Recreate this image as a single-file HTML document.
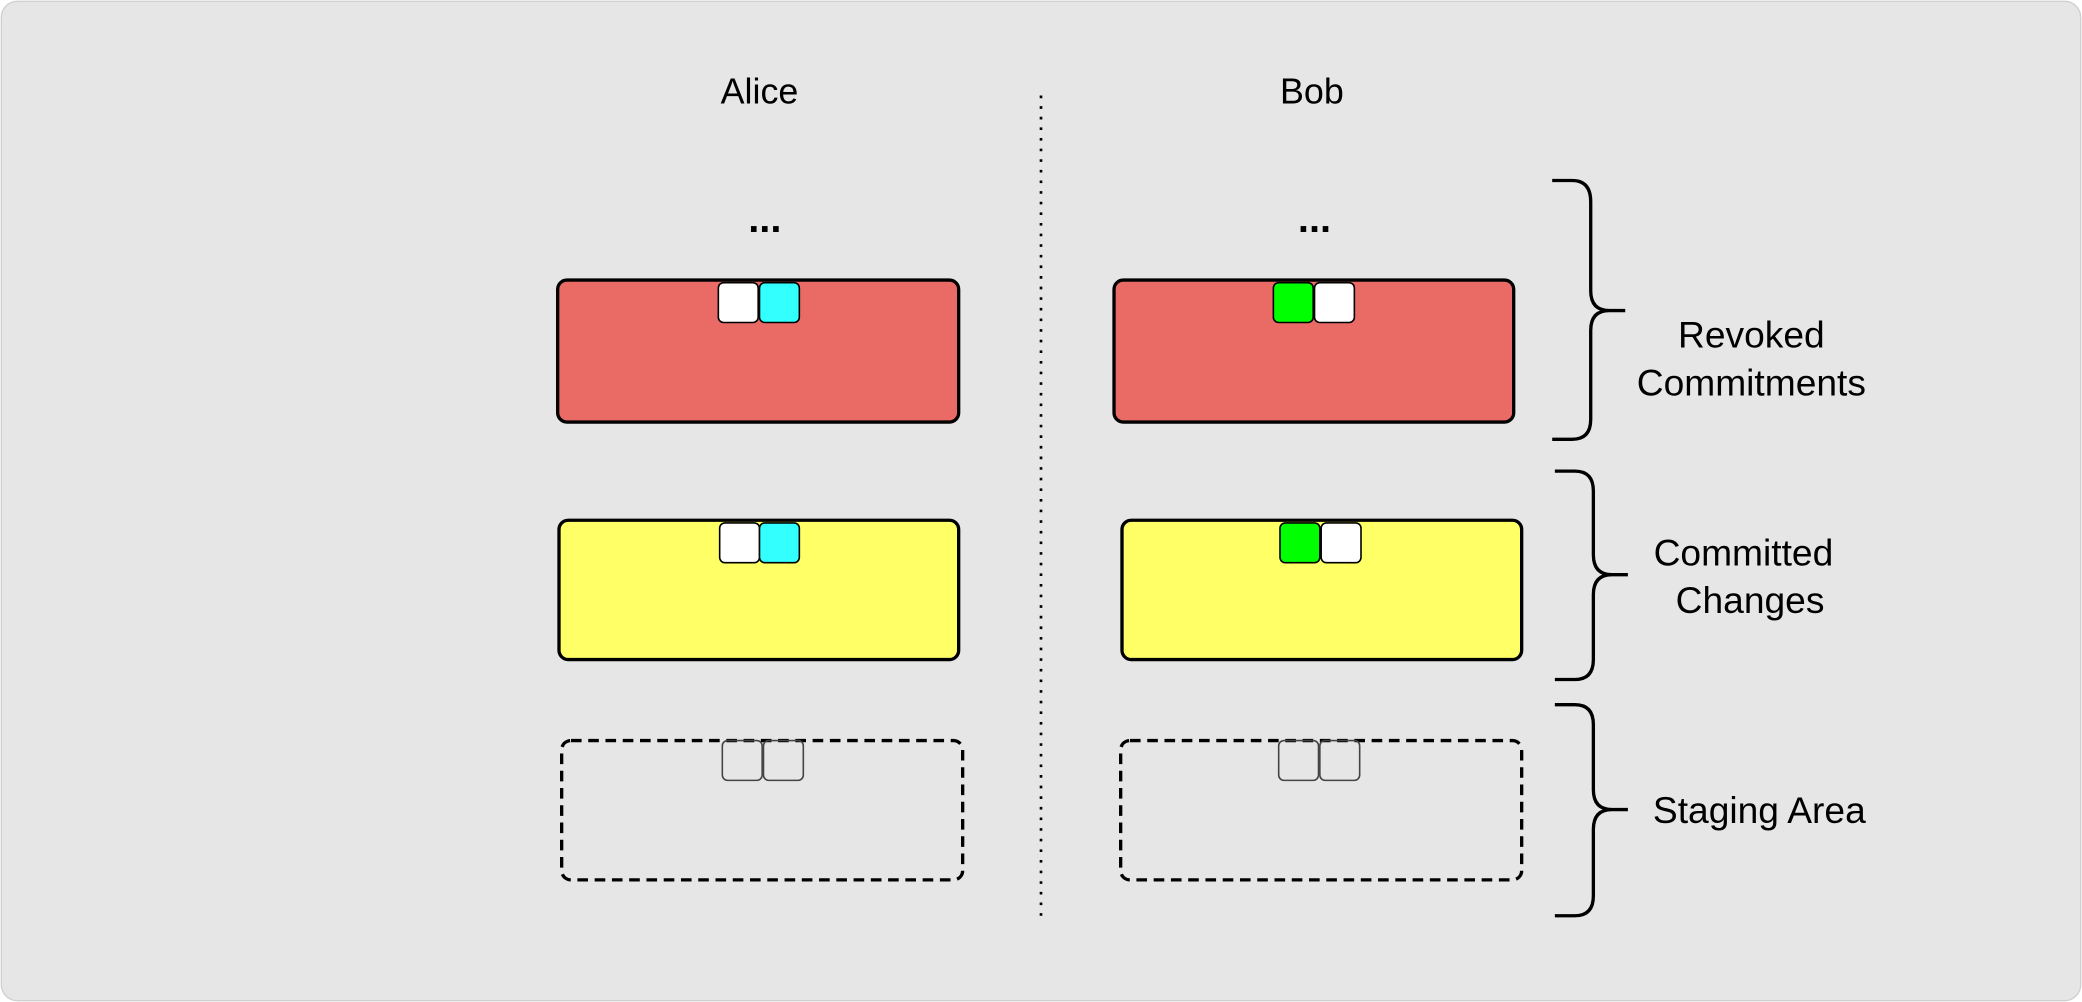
<!DOCTYPE html>
<html><head><meta charset="utf-8"><style>
html,body{margin:0;padding:0;background:#fff}
svg{display:block}
text{font-family:"Liberation Sans",sans-serif;fill:#000}
</style></head><body>
<svg width="2082" height="1002" viewBox="0 0 1568 755" preserveAspectRatio="none">
<rect x="1" y="1" width="1566" height="753" rx="12" fill="#e6e6e6" stroke="#d0d0d0" stroke-width="1"/>
<text x="572" y="78" font-size="27" text-anchor="middle">Alice</text>
<text x="988" y="78" font-size="27" text-anchor="middle">Bob</text>
<line x1="784" y1="72" x2="784" y2="695" stroke="#000" stroke-width="2" stroke-dasharray="2 6"/>
<text x="576" y="175" font-size="30" font-weight="bold" text-anchor="middle">...</text>
<text x="990" y="175" font-size="30" font-weight="bold" text-anchor="middle">...</text>

<g stroke="#000" stroke-width="2.5">
<rect x="420" y="211" width="302" height="107" rx="7" fill="#ea6b66"/>
<rect x="839" y="211" width="301" height="107" rx="7" fill="#ea6b66"/>
<rect x="421" y="392" width="301" height="105" rx="7" fill="#ffff66"/>
<rect x="845" y="392" width="301" height="105" rx="7" fill="#ffff66"/>
<rect x="423" y="558" width="302" height="105" rx="7" fill="none" stroke-dasharray="8 5"/>
<rect x="844" y="558" width="302" height="105" rx="7" fill="none" stroke-dasharray="8 5"/>
</g>
<g stroke="#000" stroke-width="1.2">
<rect x="541" y="213" width="30" height="30" rx="4" fill="#fff"/>
<rect x="572" y="213" width="30" height="30" rx="4" fill="#33ffff"/>
<rect x="959" y="213" width="30" height="30" rx="4" fill="#00ff00"/>
<rect x="990" y="213" width="30" height="30" rx="4" fill="#fff"/>
<rect x="542" y="394" width="30" height="30" rx="4" fill="#fff"/>
<rect x="572" y="394" width="30" height="30" rx="4" fill="#33ffff"/>
<rect x="964" y="394" width="30" height="30" rx="4" fill="#00ff00"/>
<rect x="995" y="394" width="30" height="30" rx="4" fill="#fff"/>
<rect x="544" y="558" width="30" height="30" rx="4" fill="none" stroke="#444"/>
<rect x="575" y="558" width="30" height="30" rx="4" fill="none" stroke="#444"/>
<rect x="963" y="558" width="30" height="30" rx="4" fill="none" stroke="#444"/>
<rect x="994" y="558" width="30" height="30" rx="4" fill="none" stroke="#444"/>
</g>
<g fill="none" stroke="#000" stroke-width="2.5">
<path d="M1169 136 H1184 Q1198 136 1198 152 V219 Q1198 234 1212 234 H1224 M1212 234 Q1198 234 1198 249 V316 Q1198 331 1184 331 H1169"/>
<path d="M1171 355 H1186 Q1200 355 1200 370 V418 Q1200 433 1214 433 H1226 M1214 433 Q1200 433 1200 448 V497 Q1200 512 1186 512 H1171"/>
<path d="M1171 531 H1186 Q1200 531 1200 546 V595 Q1200 610 1214 610 H1226 M1214 610 Q1200 610 1200 625 V675 Q1200 690 1186 690 H1171"/>
</g>
<text x="1319" y="262" font-size="28" text-anchor="middle">Revoked</text>
<text x="1319" y="298" font-size="28" text-anchor="middle">Commitments</text>
<text x="1313" y="426" font-size="28" text-anchor="middle">Committed</text>
<text x="1318" y="462" font-size="28" text-anchor="middle">Changes</text>
<text x="1325" y="620" font-size="28" text-anchor="middle">Staging Area</text>
</svg>
</body></html>
